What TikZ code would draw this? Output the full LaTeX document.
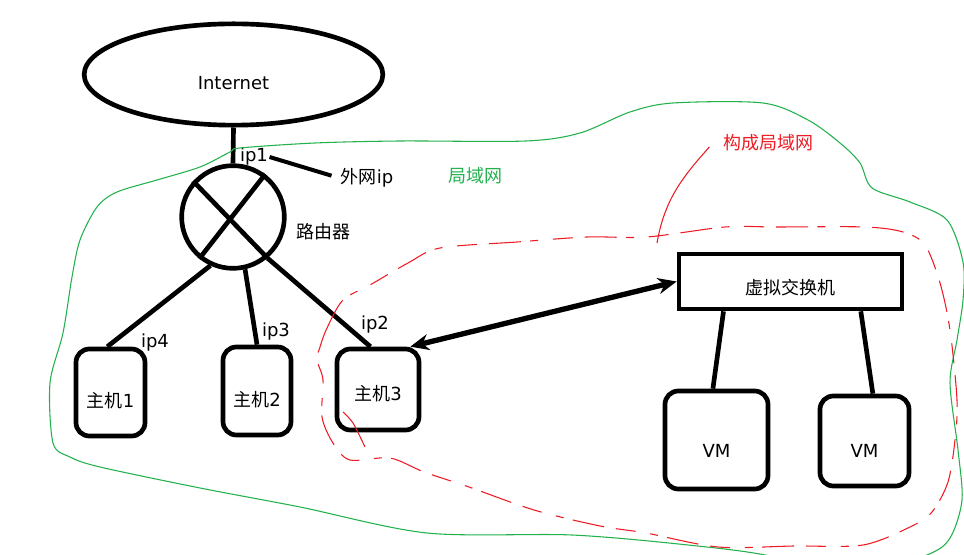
\documentclass[tikz,border=0pt]{standalone}
\usepackage{fontspec}
\setmainfont{DejaVu Sans}
\newfontfamily\cjk{Noto Sans CJK SC}
\usetikzlibrary{shapes.geometric,arrows.meta,positioning,calc}
\definecolor{langreen}{RGB}{34,177,76}
\definecolor{lanred}{RGB}{237,28,36}

\tikzset{
  hostbox/.style={draw, line width=3.5pt, rounded corners=10pt, inner sep=0pt, text height=24pt},
  link/.style={line width=3.5pt},
  tag/.style={inner sep=1pt},
  freehand/.style={line width=0.8pt},
}

\begin{document}
\begin{tikzpicture}[x=0.75pt, y=-0.75pt, font=\fontsize{13.5}{16}\selectfont]

  \useasboundingbox (0,0) rectangle (964,555);
  \clip (0,0) rectangle (964,555);

  % Internet and router
  \node[draw, ellipse, line width=3.5pt, minimum width=224pt, minimum height=76pt, text height=23pt] (inet) at (233.5,74.5) {Internet};
  \node[draw, circle, line width=3.5pt, minimum size=77pt, inner sep=0pt] (router) at (233,217) {};
  \draw[link] (router.138) -- (router.-50);
  \draw[link] (router.53) -- (router.231);

  % Hosts
  \node[hostbox, minimum width=51.75pt, minimum height=65.25pt] (host1) at (110.5,392.5) {{\cjk 主机}1};
  \node[hostbox, minimum width=51pt, minimum height=66pt] (host2) at (257,391) {{\cjk 主机}2};
  \node[hostbox, minimum width=61.5pt, minimum height=60.75pt, text height=18pt] (host3) at (378,389.5) {{\cjk 主机}3};

  % Virtual switch and VMs
  \node[draw, line width=3.5pt, minimum width=167.25pt, minimum height=41.25pt, inner sep=0pt, text height=20pt] (vswitch) at (790.5,281.5) {\cjk 虚拟交换机};
  \node[hostbox, minimum width=77.25pt, minimum height=73.5pt, text height=27pt] (vm1) at (716.5,440) {VM};
  \node[hostbox, minimum width=66.75pt, minimum height=67.5pt, text height=25pt] (vm2) at (864.5,441) {VM};

  % Labels
  \node[tag] (ip1) at (254,157) {ip1};
  \node[tag] (wanip) at (367,178) {{\cjk 外网}ip};
  \node[tag] (routertext) at (323,232) {\cjk 路由器};
  \node[tag] (ip4) at (155,343) {ip4};
  \node[tag] (ip3) at (276,332) {ip3};
  \node[tag] (ip2) at (375,325) {ip2};
  \node[tag, text=langreen] (lantext) at (475,176) {\cjk 局域网};
  \node[tag, text=lanred] (vlantext) at (768,143) {\cjk 构成局域网};

  % Links
  \draw[link] (inet.south) -- (router.north);
  \draw[link] (router.245) -- (host1.94);
  \draw[link] (router.283) -- (host2.north);
  \draw[link] (router.-50) -- (host3.100);
  \draw[line width=3pt, shorten >=6pt] (ip1.east) -- (wanip.west);
  \draw[line width=4pt, {Stealth[length=14pt,width=12pt]}-{Stealth[length=14pt,width=12pt]}] (host3.53) -- (vswitch.west);
  \draw[link] (vswitch.204) -- (vm1.94);
  \draw[link] (vswitch.337) -- (vm2.80);

  % LAN outline
  \draw[freehand, langreen] plot[smooth cycle, tension=0.5] coordinates {
    (230,152) (200,167) (157,180) (117,192) (97,207) (80,240) (72,277) (63,333)
    (50,383) (53,443) (70,457) (100,467) (200,488) (300,507) (427,533) (572,535)
    (688,545) (770,556) (850,580) (927,555) (950,538) (962,500) (958,450) (950,383)
    (957,340) (963,300) (963,262) (947,220) (910,202) (872,188) (860,163) (840,143)
    (808,120) (763,103) (673,103) (630,112) (580,133) (526,141) (400,141) (315,143)
    (240,148)};

  % Virtual LAN outline
  \draw[freehand, lanred, dash pattern=on 24pt off 7pt on 6pt off 11pt on 15pt off 9pt] plot[smooth cycle, tension=0.5] coordinates {
    (320,347) (327,328) (343,300) (370,285) (408,263) (440,248) (517,242) (587,237)
    (647,237) (725,227) (777,227) (865,227) (903,232) (925,245) (940,283) (950,330)
    (957,400) (955,440) (948,482) (932,512) (910,527) (863,545) (794,546) (718,547)
    (646,533) (600,526) (534,510) (469,487) (424,472) (390,458) (350,460) (333,443)
    (322,417) (323,380) (317,360)};
  \draw[freehand, lanred] plot[smooth] coordinates {(343,412) (353,423) (365,447)};
  \coordinate (hook) at (657,243);
  \draw[freehand, lanred] (hook) to[out=80, in=228] ($(vlantext.west)+(-12,4)$);

\end{tikzpicture}
\end{document}
